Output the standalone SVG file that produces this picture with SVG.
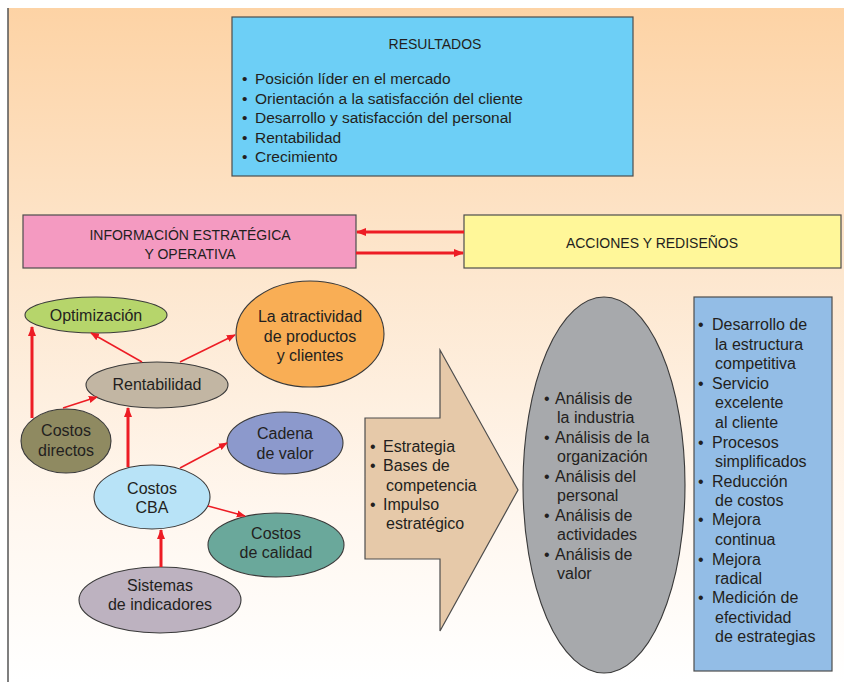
<svg xmlns="http://www.w3.org/2000/svg" width="844" height="682" viewBox="0 0 844 682">
<defs>
<linearGradient id="bg" x1="0" y1="0" x2="0" y2="1">
<stop offset="0" stop-color="#fdd3a5"/>
<stop offset="0.4" stop-color="#fde7cf"/>
<stop offset="0.75" stop-color="#fff7ef"/>
<stop offset="1" stop-color="#ffffff"/>
</linearGradient>
<marker id="ah" viewBox="0 0 10 10" refX="9" refY="5" markerWidth="9" markerHeight="9" markerUnits="userSpaceOnUse" orient="auto">
<path d="M0,1 L10,5 L0,9 z" fill="#ed1c24"/>
</marker>
<marker id="ahb" viewBox="0 0 10 10" refX="9" refY="5" markerWidth="10" markerHeight="10" markerUnits="userSpaceOnUse" orient="auto">
<path d="M0,1 L10,5 L0,9 z" fill="#ed1c24"/>
</marker>
</defs>
<style>
text{font-family:"Liberation Sans",Arial,sans-serif;fill:#231f20}
.t{font-size:14px}
.b{font-size:15.5px}
.e{font-size:16px;text-anchor:middle}
.l{font-size:16px}
.box{stroke:#4d4d4d;stroke-width:1.2}
.ell{stroke:#3a3a3a;stroke-width:1.1}
.thin{stroke:#ed1c24;stroke-width:1.5;fill:none;marker-end:url(#ah)}
.thick{stroke:#ed1c24;stroke-width:3;fill:none;marker-end:url(#ahb)}
</style>
<rect x="8" y="8" width="836" height="674" fill="url(#bg)"/>
<line x1="8" y1="8" x2="8" y2="682" stroke="#555" stroke-width="1.5"/>

<g id="resultados">
<rect class="box" x="232" y="17" width="401" height="159" fill="#6dcff6"/>
<text class="t" x="435" y="49" text-anchor="middle">RESULTADOS</text>
<text class="b" x="242" y="84">•</text><text class="b" x="255" y="84">Posición líder en el mercado</text>
<text class="b" x="242" y="104">•</text><text class="b" x="255" y="104">Orientación a la satisfacción del cliente</text>
<text class="b" x="242" y="123">•</text><text class="b" x="255" y="123">Desarrollo y satisfacción del personal</text>
<text class="b" x="242" y="143">•</text><text class="b" x="255" y="143">Rentabilidad</text>
<text class="b" x="242" y="162">•</text><text class="b" x="255" y="162">Crecimiento</text>
</g>

<g id="informacion">
<rect class="box" x="23" y="215" width="333" height="53" fill="#f49ac1"/>
<text class="t" x="190" y="240" text-anchor="middle">INFORMACIÓN ESTRATÉGICA</text>
<text class="t" x="190" y="259" text-anchor="middle">Y OPERATIVA</text>
</g>

<g id="acciones">
<rect class="box" x="464" y="215" width="377" height="53" fill="#fff799"/>
<text class="t" x="652" y="248" text-anchor="middle">ACCIONES Y REDISEÑOS</text>
</g>

<g id="optimizacion">
<ellipse class="ell" cx="96" cy="315" rx="71" ry="18" fill="#b6d56b"/>
<text class="e" x="96" y="321">Optimización</text>
</g>
<g id="atractividad">
<ellipse class="ell" cx="310" cy="334" rx="74" ry="53" fill="#f9ae55"/>
<text class="e" x="310" y="322">La atractividad</text>
<text class="e" x="310" y="342">de productos</text>
<text class="e" x="310" y="361">y clientes</text>
</g>
<g id="rentabilidad">
<ellipse class="ell" cx="157" cy="385" rx="71" ry="23" fill="#c2b6a3"/>
<text class="e" x="157" y="390">Rentabilidad</text>
</g>
<g id="costos-directos">
<ellipse class="ell" cx="66" cy="441" rx="45" ry="32" fill="#8f8a61"/>
<text class="e" x="66" y="436">Costos</text>
<text class="e" x="66" y="456">directos</text>
</g>
<g id="cadena">
<ellipse class="ell" cx="285" cy="443" rx="58" ry="31" fill="#8c99cc"/>
<text class="e" x="285" y="439">Cadena</text>
<text class="e" x="285" y="459">de valor</text>
</g>
<g id="costos-cba">
<ellipse class="ell" cx="152" cy="497" rx="58" ry="32" fill="#b8e3f7"/>
<text class="e" x="152" y="494">Costos</text>
<text class="e" x="152" y="513">CBA</text>
</g>
<g id="costos-calidad">
<ellipse class="ell" cx="276" cy="545" rx="68" ry="32" fill="#6aa89b"/>
<text class="e" x="276" y="539">Costos</text>
<text class="e" x="276" y="558">de calidad</text>
</g>
<g id="sistemas">
<ellipse class="ell" cx="160" cy="600" rx="81" ry="33" fill="#bdb2c0"/>
<text class="e" x="160" y="591">Sistemas</text>
<text class="e" x="160" y="610">de indicadores</text>
</g>

<g id="estrategia">
<polygon points="365,418 440,418 440,350 518,490 440,631 440,559 365,559" fill="#e6c9a9" stroke="#4d4d4d" stroke-width="1.2"/>
<text class="l" x="370" y="452">•</text><text class="l" x="383" y="452">Estrategia</text>
<text class="l" x="370" y="471">•</text><text class="l" x="383" y="471">Bases de</text>
<text class="l" x="386" y="491">competencia</text>
<text class="l" x="370" y="510">•</text><text class="l" x="383" y="510">Impulso</text>
<text class="l" x="386" y="529">estratégico</text>
</g>

<g id="analisis">
<ellipse class="ell" cx="604" cy="485" rx="81" ry="188" fill="#a7a9ac"/>
<text class="l" x="544" y="404">•</text><text class="l" x="555" y="404">Análisis de</text>
<text class="l" x="557" y="423">la industria</text>
<text class="l" x="544" y="443">•</text><text class="l" x="555" y="443">Análisis de la</text>
<text class="l" x="557" y="462">organización</text>
<text class="l" x="544" y="482">•</text><text class="l" x="555" y="482">Análisis del</text>
<text class="l" x="557" y="501">personal</text>
<text class="l" x="544" y="521">•</text><text class="l" x="555" y="521">Análisis de</text>
<text class="l" x="557" y="540">actividades</text>
<text class="l" x="544" y="560">•</text><text class="l" x="555" y="560">Análisis de</text>
<text class="l" x="557" y="579">valor</text>
</g>

<g id="mejoras">
<rect class="box" x="694" y="297" width="138" height="374" fill="#93bde6"/>
<text class="l" x="698" y="330">•</text><text class="l" x="712" y="330">Desarrollo de</text>
<text class="l" x="715" y="350">la estructura</text>
<text class="l" x="715" y="369">competitiva</text>
<text class="l" x="698" y="389">•</text><text class="l" x="712" y="389">Servicio</text>
<text class="l" x="715" y="408">excelente</text>
<text class="l" x="715" y="428">al cliente</text>
<text class="l" x="698" y="448">•</text><text class="l" x="712" y="448">Procesos</text>
<text class="l" x="715" y="467">simplificados</text>
<text class="l" x="698" y="487">•</text><text class="l" x="712" y="487">Reducción</text>
<text class="l" x="715" y="506">de costos</text>
<text class="l" x="698" y="525">•</text><text class="l" x="712" y="525">Mejora</text>
<text class="l" x="715" y="545">continua</text>
<text class="l" x="698" y="565">•</text><text class="l" x="712" y="565">Mejora</text>
<text class="l" x="715" y="584">radical</text>
<text class="l" x="698" y="603">•</text><text class="l" x="712" y="603">Medición de</text>
<text class="l" x="715" y="623">efectividad</text>
<text class="l" x="715" y="642">de estrategias</text>
</g>

<g id="connectors">
<line class="thick" x1="464" y1="232" x2="357" y2="232" stroke-width="2.5"/>
<line class="thick" x1="356" y1="253" x2="463" y2="253" stroke-width="2.5"/>
<line class="thick" x1="32" y1="418" x2="32" y2="327"/>
<line class="thin" x1="63" y1="408" x2="97" y2="397"/>
<line class="thin" x1="142" y1="362" x2="91" y2="333"/>
<line class="thin" x1="180" y1="362" x2="235" y2="335"/>
<line class="thick" x1="128" y1="467" x2="128" y2="408"/>
<line class="thin" x1="180" y1="468" x2="227" y2="443"/>
<line class="thin" x1="208" y1="506" x2="245" y2="516"/>
<line class="thick" x1="161" y1="567" x2="161" y2="530"/>
</g>
</svg>
